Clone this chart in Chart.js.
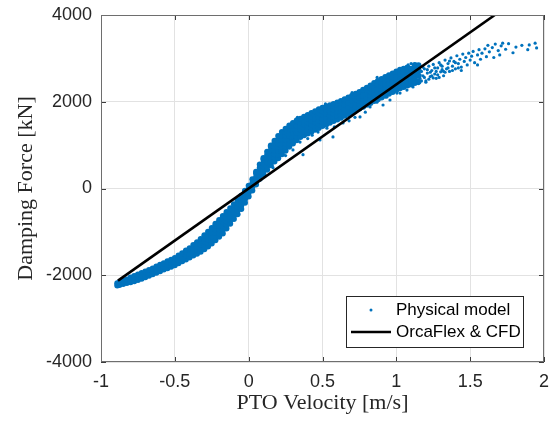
<!DOCTYPE html>
<html>
<head>
<meta charset="utf-8">
<script src="https://cdn.jsdelivr.net/npm/chart.js@4.4.1/dist/chart.umd.min.js"></script>
<style>
  html, body { margin: 0; padding: 0; background: #fff; }
</style>
</head>
<body>
<canvas id="chart" width="552" height="421"></canvas>
<script>
const xTicks = [-1, -0.5, 0, 0.5, 1, 1.5, 2]
const yTicks = [-4000, -2000, 0, 2000, 4000]

// OrcaFlex & CFD: linear damping, the two ends of the line
const linearVelocity = [-0.885, 1.667]
const linearForce = [-2124, 4000]

// Physical model, dense part of the cloud: one column of forces per velocity
const bandVelocity = [
  -0.89, -0.875, -0.85, -0.825, -0.8, -0.775, -0.75, -0.725, -0.7, -0.675,
  -0.65, -0.625, -0.6, -0.575, -0.55, -0.525, -0.5, -0.475, -0.45, -0.425,
  -0.4, -0.375, -0.35, -0.325, -0.3, -0.275, -0.25, -0.225, -0.2, -0.175,
  -0.15, -0.125, -0.1, -0.075, -0.05, -0.025, 0, 0.025, 0.05, 0.075,
  0.1, 0.125, 0.15, 0.175, 0.2, 0.225, 0.25, 0.275, 0.3, 0.325,
  0.35, 0.375, 0.4, 0.425, 0.45, 0.475, 0.5, 0.525, 0.55, 0.575,
  0.6, 0.625, 0.65, 0.675, 0.7, 0.725, 0.75, 0.775, 0.8, 0.825,
  0.85, 0.875, 0.9, 0.925, 0.95, 0.975, 1, 1.025, 1.05, 1.075,
  1.1, 1.125, 1.15
]
const bandForce = [
  [-2235, -2185], [-2225, -2160], [-2200, -2120], [-2180, -2100], [-2160, -2100, -2050],
  [-2140, -2075, -2015], [-2110, -2040, -1980], [-2080, -2010, -1950], [-2045, -1975, -1915], [-2010, -1940, -1880],
  [-1975, -1905, -1845], [-1940, -1870, -1800], [-1905, -1835, -1760], [-1870, -1800, -1725], [-1840, -1765, -1680],
  [-1805, -1725, -1640], [-1770, -1690, -1600], [-1725, -1640, -1545], [-1680, -1595, -1490], [-1635, -1550, -1465, -1430],
  [-1590, -1505, -1420, -1375], [-1545, -1460, -1380, -1305], [-1505, -1420, -1335, -1240], [-1460, -1375, -1290, -1205, -1165], [-1400, -1315, -1230, -1145, -1080],
  [-1340, -1255, -1170, -1085, -995], [-1270, -1185, -1100, -1015, -910], [-1195, -1110, -1025, -940, -855, -815], [-1115, -1030, -945, -860, -775, -725], [-1035, -950, -865, -780, -695, -635],
  [-925, -840, -755, -670, -585, -540], [-815, -730, -645, -560, -455], [-705, -620, -535, -450, -365], [-595, -510, -425, -340, -270], [-475, -390, -305, -220, -170],
  [-330, -245, -160, -75, -50], [-185, -100, -15, 65], [-45, 40, 125, 215], [90, 175, 260, 345, 385], [225, 310, 395, 480, 555],
  [330, 415, 500, 585, 670, 705], [435, 520, 605, 690, 775, 850], [535, 620, 705, 790, 875, 960, 990], [620, 705, 790, 875, 960, 1045, 1100], [700, 785, 870, 955, 1040, 1125, 1210],
  [790, 875, 960, 1045, 1130, 1215, 1300], [870, 955, 1040, 1125, 1210, 1295, 1380], [960, 1045, 1130, 1215, 1300, 1385, 1455], [1035, 1120, 1205, 1290, 1375, 1460, 1510], [1110, 1195, 1280, 1365, 1450, 1535, 1565],
  [1185, 1270, 1355, 1440, 1525, 1610], [1225, 1310, 1395, 1480, 1565, 1655], [1270, 1355, 1440, 1525, 1610, 1695], [1310, 1395, 1480, 1565, 1650, 1740], [1355, 1440, 1525, 1610, 1695, 1780],
  [1395, 1480, 1565, 1650, 1735, 1825], [1440, 1525, 1610, 1695, 1780, 1860], [1475, 1560, 1645, 1730, 1815, 1890], [1515, 1600, 1685, 1770, 1855, 1920], [1555, 1640, 1725, 1810, 1895, 1950],
  [1590, 1675, 1760, 1845, 1930, 1980], [1630, 1715, 1800, 1885, 1970, 2015], [1675, 1760, 1845, 1930, 2015, 2055], [1715, 1800, 1885, 1970, 2055, 2100], [1760, 1845, 1930, 2015, 2100, 2140],
  [1800, 1885, 1970, 2055, 2140, 2185], [1845, 1930, 2015, 2100, 2185, 2225], [1885, 1970, 2055, 2140, 2225, 2275], [1930, 2015, 2100, 2185, 2270, 2325], [1970, 2055, 2140, 2225, 2310, 2375],
  [2015, 2100, 2185, 2270, 2355, 2430], [2055, 2140, 2225, 2310, 2395, 2480], [2100, 2185, 2270, 2355, 2440, 2525], [2140, 2225, 2310, 2395, 2480, 2570], [2185, 2270, 2355, 2440, 2525, 2610],
  [2225, 2310, 2395, 2480, 2565, 2650], [2270, 2355, 2440, 2525, 2610, 2695], [2310, 2395, 2480, 2565, 2650, 2735], [2340, 2425, 2510, 2595, 2680, 2760], [2375, 2460, 2545, 2630, 2715, 2790],
  [2400, 2490, 2580, 2670, 2760], [2430, 2540, 2650, 2760, 2850], [2460, 2600, 2720, 2840]
]

// Physical model, loose points (velocity m/s, force kN)
const loosePoints = [
  [0.165, 480], [0.25, 760], [0.3, 890], [0.348, 1070], [0.368, 780], [0.4, 1150], [0.43, 1230],
  [0.47, 1300], [0.483, 1120], [0.53, 1390], [0.571, 1190], [0.58, 1420], [0.639, 1510], [0.68, 1560],
  [0.72, 1640], [0.754, 1650], [0.79, 1760], [0.822, 1880], [0.869, 1990], [0.91, 1925], [0.937, 2110],
  [0.957, 2040], [1.004, 2200], [1.025, 2200], [1.072, 2270], [1.113, 2340], [1.14, 2430],
  [0.33, 1640], [0.52, 1950], [0.7, 2210], [0.87, 2560], [1.08, 2850], [1.1, 2880],
  [1.15, 2420], [1.16, 2540], [1.16, 2620], [1.17, 2700], [1.17, 2480], [1.18, 2600], [1.18, 2800],
  [1.19, 2760], [1.19, 2560], [1.2, 2480], [1.2, 2450], [1.21, 2660], [1.21, 2740], [1.22, 2820],
  [1.22, 2520], [1.23, 2580], [1.23, 2680], [1.24, 2720], [1.24, 2600], [1.25, 2860], [1.25, 2550],
  [1.26, 2640], [1.26, 2780], [1.27, 2540], [1.27, 2700], [1.28, 2780], [1.28, 2620], [1.29, 2900],
  [1.29, 2560], [1.3, 2690], [1.3, 2850], [1.31, 2820], [1.31, 2740], [1.32, 2600], [1.32, 2700],
  [1.33, 2960], [1.33, 2680], [1.34, 2760], [1.35, 2880], [1.35, 2780], [1.36, 2700], [1.36, 2940],
  [1.37, 3010], [1.38, 2820], [1.38, 2720], [1.39, 2930], [1.4, 2760], [1.4, 2900], [1.41, 3060],
  [1.42, 2880], [1.42, 2780], [1.43, 2980], [1.44, 2800], [1.44, 2720], [1.45, 3100], [1.46, 2930],
  [1.47, 3020], [1.48, 2850], [1.49, 3120], [1.5, 2960], [1.51, 3050], [1.52, 3160], [1.53, 2900],
  [1.55, 3080], [1.55, 2850], [1.56, 3200], [1.57, 2980], [1.58, 3120], [1.6, 3220], [1.61, 3040],
  [1.62, 3300], [1.63, 3150], [1.65, 3250], [1.66, 3020], [1.67, 3330], [1.69, 3180], [1.7, 3080],
  [1.71, 3290], [1.72, 3350], [1.74, 3210], [1.76, 3340], [1.79, 3130], [1.81, 3260], [1.85, 3300],
  [1.89, 3200], [1.9, 3310], [1.94, 3350], [1.95, 3240]
]

const blue = "#0072bd"
const axisGray = "#262626"
const tickFont = { family: "'Liberation Sans', Arial, sans-serif", size: 18 }
const titleFont = { family: "'Liberation Serif', 'Times New Roman', serif", size: 22 }

const bandPoints = bandVelocity.flatMap((v, i) => bandForce[i].map(f => ({ x: v, y: f })))

// MATLAB-style box with inward tick marks
const axesBox = {
  id: "axesBox",
  afterDraw(chart) {
    const { ctx, chartArea: a, scales: { x, y } } = chart
    ctx.save()
    ctx.strokeStyle = "#3c3c3c"
    ctx.lineWidth = 1
    ctx.beginPath()
    xTicks.forEach(v => {
      const px = Math.round(x.getPixelForValue(v)) + 0.5
      ctx.moveTo(px, a.bottom)
      ctx.lineTo(px, a.bottom - 5)
      ctx.moveTo(px, a.top)
      ctx.lineTo(px, a.top + 5)
    })
    yTicks.forEach(v => {
      const py = Math.round(y.getPixelForValue(v)) + 0.5
      ctx.moveTo(a.left, py)
      ctx.lineTo(a.left + 5, py)
      ctx.moveTo(a.right, py)
      ctx.lineTo(a.right - 5, py)
    })
    ctx.stroke()
    ctx.strokeStyle = "#6e6e6e"
    ctx.strokeRect(Math.round(a.left) + 0.5, Math.round(a.top) + 0.5, Math.round(a.width) - 1, Math.round(a.height) - 1)
    ctx.restore()
  }
}

// legend box in the lower right corner of the axes
const legendBox = {
  id: "legendBox",
  afterDraw(chart) {
    const { ctx, chartArea: a } = chart
    const [lineSet, dotSet] = chart.data.datasets
    const w = 177, h = 51
    const left = a.right - 21 - w
    const top = a.bottom - 15 - h
    ctx.save()
    ctx.fillStyle = "#fff"
    ctx.fillRect(left, top, w, h)
    ctx.strokeStyle = axisGray
    ctx.lineWidth = 1
    ctx.strokeRect(left + 0.5, top + 0.5, w, h)

    ctx.fillStyle = dotSet.backgroundColor
    ctx.beginPath()
    ctx.arc(left + 25, top + 14, 1.5, 0, Math.PI * 2)
    ctx.fill()

    ctx.strokeStyle = lineSet.borderColor
    ctx.lineWidth = lineSet.borderWidth
    ctx.beginPath()
    ctx.moveTo(left + 5, top + 36)
    ctx.lineTo(left + 45, top + 36)
    ctx.stroke()

    ctx.fillStyle = "#000"
    ctx.font = "17px 'Liberation Sans', Arial, sans-serif"
    ctx.textBaseline = "middle"
    ctx.fillText(dotSet.label, left + 50, top + 14)
    ctx.fillText(lineSet.label, left + 50, top + 36)
    ctx.restore()
  }
}

new Chart(document.getElementById("chart"), {
  type: "scatter",
  data: {
    datasets: [
      {
        type: "line",
        label: "OrcaFlex & CFD",
        data: linearVelocity.map((v, i) => ({ x: v, y: linearForce[i] })),
        borderColor: "#000",
        borderWidth: 2.6,
        pointRadius: 0,
        order: 0
      },
      {
        label: "Physical model",
        data: loosePoints.map(([v, f]) => ({ x: v, y: f })),
        backgroundColor: blue,
        borderWidth: 0,
        pointRadius: 1.6,
        order: 1
      },
      {
        label: "Physical model",
        data: bandPoints,
        backgroundColor: blue,
        borderWidth: 0,
        pointRadius: 3,
        order: 2
      }
    ]
  },
  options: {
    responsive: false,
    animation: false,
    devicePixelRatio: 1,
    layout: { padding: { top: 15, right: 8, left: 0, bottom: 0 } },
    plugins: {
      legend: { display: false },
      tooltip: { enabled: false }
    },
    scales: {
      x: {
        type: "linear",
        min: -1,
        max: 2,
        afterBuildTicks: (scale) => { scale.ticks = xTicks.map(v => ({ value: v })) },
        afterFit: (scale) => {
          scale.height = 59
          scale.paddingLeft = 0
          scale.paddingRight = 0
        },
        ticks: { font: tickFont, color: axisGray, padding: 9, callback: (v) => String(v) },
        grid: { color: "#e2e2e2", drawTicks: false },
        border: { display: false },
        title: {
          display: true,
          text: "PTO Velocity [m/s]",
          font: titleFont,
          color: axisGray,
          padding: { top: 0, bottom: 5 }
        }
      },
      y: {
        type: "linear",
        min: -4000,
        max: 4000,
        afterBuildTicks: (scale) => { scale.ticks = yTicks.map(v => ({ value: v })) },
        afterFit: (scale) => {
          scale.width = 101
          scale.paddingTop = 0
          scale.paddingBottom = 0
        },
        ticks: { font: tickFont, color: axisGray, padding: 9, callback: (v) => String(v) },
        grid: { color: "#e2e2e2", drawTicks: false },
        border: { display: false },
        title: {
          display: true,
          text: "Damping Force [kN]",
          font: titleFont,
          color: axisGray,
          padding: { top: 13, bottom: 0 }
        }
      }
    }
  },
  plugins: [axesBox, legendBox]
})
</script>
</body>
</html>
